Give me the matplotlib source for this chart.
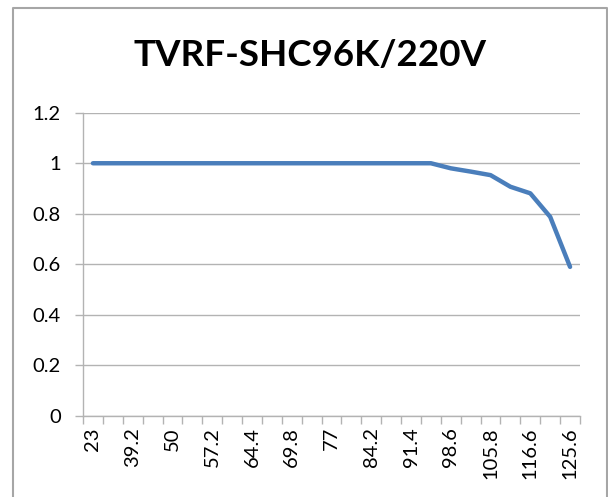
import matplotlib.pyplot as plt
from matplotlib.lines import Line2D

# категории по оси X (подписана каждая вторая)
temps = ['23', '32', '39.2', '44.6', '50', '53.6', '57.2', '60.8', '64.4', '66.2',
         '69.8', '73.4', '77', '80.6', '84.2', '87.8', '91.4', '95', '98.6',
         '102.2', '105.8', '111.2', '116.6', '122', '125.6']
ratio = [1, 1, 1, 1, 1, 1, 1, 1, 1, 1, 1, 1, 1, 1, 1, 1, 1, 1,
         0.98, 0.967, 0.953, 0.907, 0.881, 0.788, 0.59]
y_ticks = [0, 0.2, 0.4, 0.6, 0.8, 1, 1.2]
y_labels = ['0', '0.2', '0.4', '0.6', '0.8', '1', '1.2']
title = 'TVRF-SHC96K/220V'

plt.rcParams['font.family'] = ['Lato', 'DejaVu Sans']

W, H = 608, 497
fig = plt.figure(figsize=(W / 100, H / 100), dpi=100)
ax = fig.add_axes([83 / W, 1 - 416 / H, (580 - 83) / W, (416 - 112.7) / H])

x = list(range(len(temps)))
ax.plot(x, ratio, color='#4a7ebb', linewidth=3.2, solid_capstyle='round',
        solid_joinstyle='round', zorder=3)

ax.set_xlim(-0.5, len(temps) - 0.5)
ax.set_ylim(0, 1.2)
ax.set_yticks(y_ticks)
ax.set_yticklabels(y_labels)
ax.set_xticks(x[::2])
ax.set_xticklabels(temps[::2], rotation=90)
ax.set_xticks([i - 0.5 for i in range(len(temps) + 1)], minor=True)

grid_c = '#b3b3b3'
ax.grid(axis='y', color=grid_c, linewidth=1.0)
ax.set_axisbelow(True)
for s in ['top', 'right']:
    ax.spines[s].set_visible(False)
for s in ['left', 'bottom']:
    ax.spines[s].set_color(grid_c)
    ax.spines[s].set_linewidth(1.0)

ax.tick_params(axis='y', length=6, width=1, color=grid_c, labelsize=14.5, pad=10)
ax.tick_params(axis='x', which='major', length=0, labelsize=14.5, pad=8)
ax.tick_params(axis='x', which='minor', length=6, width=1, color=grid_c)

fig.text(310 / W, 1 - 55 / H, title, ha='center', va='center',
         fontsize=26.5, fontweight='bold')

# рамка диаграммы
bc = '#a6a6a6'
fx = [12.5 / W, 12.5 / W, 606.5 / W, 606.5 / W]
fy = [0, 1 - 8 / H, 1 - 8 / H, 0]
fig.add_artist(Line2D(fx, fy, color=bc, linewidth=1.5, transform=fig.transFigure))

fig.savefig('out.png', dpi=100)
